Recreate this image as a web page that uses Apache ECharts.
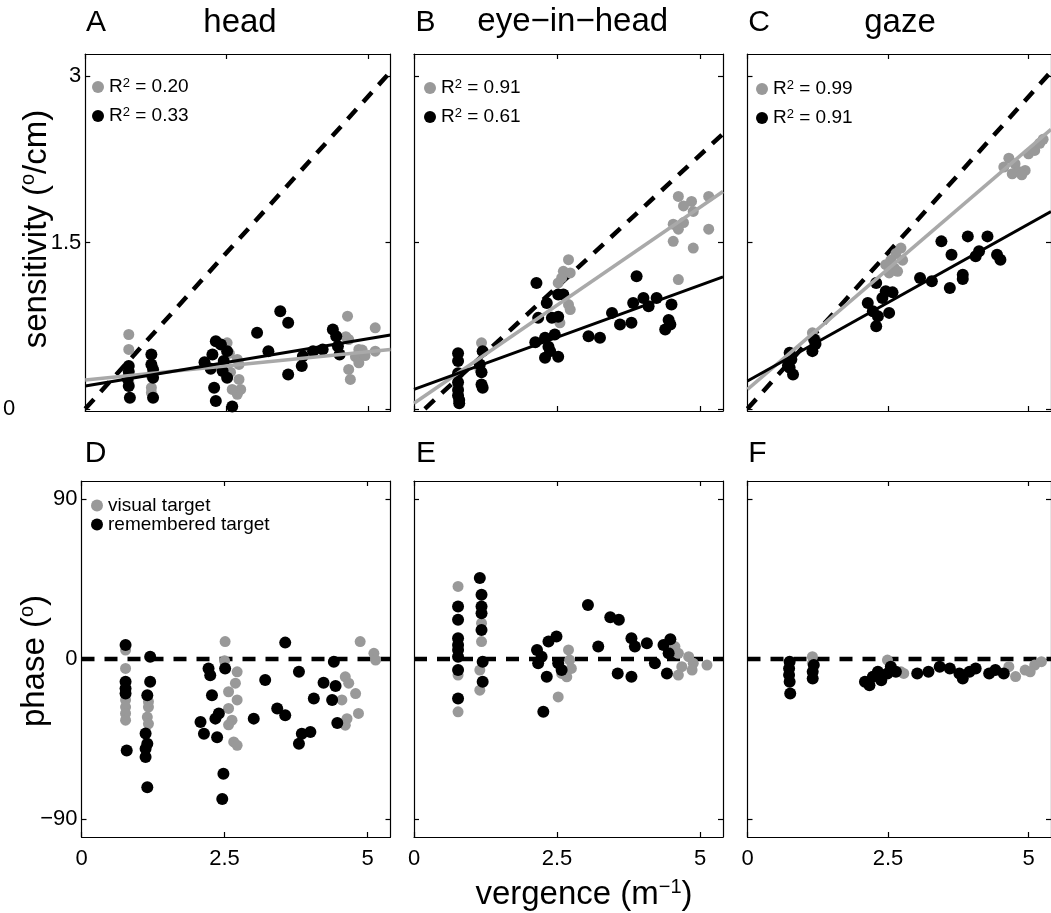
<!DOCTYPE html>
<html><head><meta charset="utf-8">
<script src="https://cdn.jsdelivr.net/npm/echarts@6/dist/echarts.min.js"></script>
<style>html,body{margin:0;padding:0;background:#fff}#c{width:1051px;height:913px}</style>
</head><body><div id="c"></div>
<script>
const FONT = "'Liberation Sans', Arial, Helvetica, sans-serif";

// ---- tick labels / text ----
const xTicks = [0, 2.5, 5];
const sensTicks = [0, 1.5, 3];
const phaseTicks = [-90, 0, 90];
const panelLetters = ['A', 'B', 'C', 'D', 'E', 'F'];
const panelTitles = ['head', 'eye\u2212in\u2212head', 'gaze'];
const r2Visual = ['0.20', '0.91', '0.99'];
const r2Remembered = ['0.33', '0.61', '0.91'];
const legendLabels = ['visual target', 'remembered target'];

// ---- sensitivity data [vergence m^-1, sensitivity deg/cm] ----
const headSensVisual = [[0.77,0.67],[0.77,0.535],[0.77,0.30],[0.77,0.24],[1.17,0.19],[1.17,0.145],[1.17,0.30],
  [2.51,0.595],[2.69,0.445],[2.72,0.40],[2.72,0.265],[2.75,0.175],[2.69,0.13],[2.60,0.175],[2.57,0.33],[2.55,0.5],
  [4.64,0.835],[4.61,0.65],[4.66,0.625],[4.84,0.535],[4.78,0.47],[4.84,0.415],[4.66,0.355],[4.69,0.265],
  [5.13,0.73],[5.13,0.52],[4.90,0.53],[4.95,0.48]];
const headSensRemembered = [[0.77,0.385],[0.77,0.335],[0.75,0.27],[0.77,0.205],[0.79,0.10],
  [1.17,0.49],[1.17,0.40],[1.20,0.355],[1.20,0.28],[1.20,0.10],
  [2.31,0.61],[2.40,0.58],[2.51,0.52],[2.25,0.49],[2.11,0.42],[2.22,0.36],[2.45,0.43],[2.43,0.34],[2.51,0.28],[2.28,0.19],[2.31,0.07],[2.60,0.02],
  [3.04,0.685],[3.45,0.88],[3.59,0.775],[3.24,0.52],[3.59,0.31],[3.83,0.385],[3.85,0.475],[4.03,0.52],[4.20,0.535],
  [4.38,0.715],[4.44,0.655],[4.47,0.565],[4.50,0.49]];
const eyeSensVisual = [[0.77,0.2],[0.77,0.115],[1.18,0.595],[1.15,0.36],
  [2.70,1.345],[2.61,1.24],[2.73,1.225],[2.52,1.135],[2.58,1.18],[2.70,0.94],[2.73,0.895],[2.55,0.775],
  [4.62,1.915],[4.85,1.87],[5.15,1.915],[4.71,1.83],[4.88,1.78],[4.53,1.665],[4.71,1.68],[4.62,1.62],[5.15,1.62],
  [4.53,1.51],[4.88,1.45],[4.62,1.165]];
const eyeSensRemembered = [[0.77,0.50],[0.77,0.43],[0.77,0.32],[0.77,0.24],[0.77,0.17],[0.77,0.12],[0.79,0.08],[0.79,0.05],
  [1.20,0.52],[1.15,0.40],[1.18,0.33],[1.18,0.22],[1.20,0.19],
  [2.14,1.135],[2.52,1.03],[2.61,1.03],[2.32,0.955],[2.17,0.82],[2.41,0.82],[2.52,0.83],[2.46,0.67],[2.29,0.64],
  [2.12,0.60],[2.35,0.56],[2.38,0.52],[2.29,0.46],[2.52,0.47],
  [3.05,0.655],[3.25,0.64],[3.46,0.865],[3.60,0.76],[3.80,0.775],[3.83,0.955],[3.89,1.195],[4.01,1.0],[4.10,0.925],
  [4.24,1.0],[4.50,0.94],[4.45,0.80],[4.48,0.76],[4.39,0.715]];
const gazeSensVisual = [[0.75,0.42],[1.155,0.685],[1.21,0.625],
  [2.73,1.45],[2.64,1.40],[2.76,1.34],[2.55,1.34],[2.46,1.30],[2.61,1.27],[2.52,1.225],[2.67,1.24],
  [4.65,2.26],[4.56,2.18],[4.76,2.21],[4.82,2.14],[4.94,2.15],[4.71,2.12],[4.88,2.11],[5.00,2.30],[5.11,2.33],[5.20,2.395],[5.26,2.43]];
const gazeSensRemembered = [[0.75,0.505],[0.78,0.445],[0.75,0.37],[0.81,0.31],[0.72,0.39],
  [1.185,0.625],[1.21,0.585],[1.155,0.52],
  [2.29,1.135],[2.46,1.06],[2.58,1.05],[2.14,0.955],[2.23,0.88],[2.32,0.835],[2.52,0.865],[2.29,0.745],[2.40,1.0],
  [3.07,1.18],[3.28,1.15],[3.45,1.51],[3.63,1.39],[3.60,1.09],[3.83,1.21],[3.83,1.17],[3.92,1.555],[4.06,1.375],
  [4.12,1.42],[4.27,1.555],[4.44,1.39],[4.50,1.345]];

// ---- phase data [vergence m^-1, phase deg] ----
const headPhaseVisual = [[0.77,5],[0.77,-5.3],[0.77,-23],[0.77,-27],[0.77,-30.6],[0.77,-34.4],
  [1.17,-27],[1.15,-32.6],[1.17,-36.4],[1.17,-24],
  [2.51,9.8],[2.72,-7.2],[2.69,-13.6],[2.57,-18.4],[2.72,-23],[2.57,-27.8],[2.63,-34.4],[2.57,-37],[2.66,-46.6],[2.72,-48.5],[2.50,-1],
  [4.87,9.8],[5.11,3.2],[5.14,-0.6],[4.61,-10],[4.67,-13.6],[4.79,-19.4],[4.55,-23],[4.84,-30.6],[4.64,-33.5],[4.61,-37.2]];
const headPhaseRemembered = [[0.77,7.9],[0.77,-12.8],[0.77,-16.6],[0.77,-19.4],[0.79,-51.4],
  [1.20,1.3],[1.20,-12.8],[1.15,-20.3],[1.12,-41.9],[1.15,-47.6],[1.12,-50.4],[1.12,-55.1],[1.15,-72],
  [2.22,-5.3],[2.25,-9.1],[2.51,-5.3],[2.28,-20.3],[2.08,-35.4],[2.14,-42],[2.34,-33.5],[2.40,-30.6],[2.37,-43.9],[2.48,-64.5],[2.46,-78.6],
  [3.01,-33.5],[3.21,-11.8],[3.42,-27.8],[3.56,-31.6],[3.56,9.2],[3.80,-7.2],[3.85,-42],[4.00,-41],[3.80,-47.6],
  [4.06,-22.2],[4.23,-13.4],[4.41,-1.5],[4.44,-15.2],[4.38,-23],[4.47,-36]];
const eyePhaseVisual = [[0.77,40.8],[0.77,-29.7],[0.77,-9],
  [1.18,20.1],[1.18,9.8],[1.15,-6.2],[1.15,-17.5],
  [2.70,5.1],[2.72,-0.6],[2.75,-5.3],[2.58,-8.1],[2.67,-10],[2.52,-21.3],
  [4.62,3.2],[4.80,1.3],[4.88,-2.4],[4.68,-4.3],[4.62,-9],[4.86,-6.2],[5.12,-3.4],[4.56,7]];
const eyePhaseRemembered = [[0.77,29.5],[0.77,22],[0.77,11.7],[0.77,7.9],[0.77,5.1],[0.77,1.3],[0.77,-6.2],[0.77,-22.2],
  [1.15,45.5],[1.18,36.1],[1.18,29.5],[1.18,25.7],[1.18,16.3],[1.20,-1.5],[1.20,-12.8],
  [2.15,5.1],[2.23,1.3],[2.35,9.8],[2.49,12.6],[2.17,-2.4],[2.52,-2.4],[2.58,-6.2],[2.32,-10],[2.26,-29.7],
  [3.04,30.4],[3.22,7],[3.43,23.5],[3.58,22],[3.80,11.7],[3.86,7],[4.07,8.9],[3.56,-8.1],[3.80,-10],[4.21,-2.4],
  [4.36,7.9],[4.48,11.1],[4.45,3.2],[4.42,-8.1]];
const gazePhaseVisual = [[1.155,1.3],[1.155,-2.4],[2.49,-0.6],[2.73,-7.2],[2.78,-8.1],[4.65,-4.3],[4.77,-9.9],
  [4.94,-6.2],[5.11,-3.4],[5.03,-7.2],[5.23,-1.5]];
const gazePhaseRemembered = [[0.75,-1.5],[0.74,-5.3],[0.74,-9],[0.75,-12.8],[0.76,-19.4],
  [1.18,-3.4],[1.16,-7.2],[1.16,-10.9],
  [2.09,-12.8],[2.17,-14.7],[2.23,-10],[2.32,-7.2],[2.38,-11.9],[2.49,-8.1],[2.55,-4.3],[2.64,-7.2],
  [3.02,-8.1],[3.22,-7.2],[3.42,-4.3],[3.60,-5.3],[3.77,-8.1],[3.95,-7.2],[4.06,-5.3],[4.30,-8.1],[4.41,-6.2],[4.56,-8.1],[3.83,-11]];

// ---- regression fits and reference lines (end points) ----
const fitHeadVisual = [[0,0.26],[5.4,0.535]];
const fitHeadRemembered = [[0,0.205],[5.4,0.665]];
const fitEyeVisual = [[0,0.05],[5.4,1.96]];
const fitEyeRemembered = [[0,0.175],[5.4,1.19]];
const fitGazeVisual = [[0,0.175],[5.4,2.52]];
const fitGazeRemembered = [[0,0.25],[5.4,1.78]];
const idealHead = [[0,0],[5.4,3.04]];
const idealEye = [[0.19,0],[5.4,2.48]];
const idealGaze = [[0,0],[5.4,3.04]];
const zeroPhase = [[0,0],[5.4,0]];

// ---- assemble ----
const GRAY = '#999999';
const panelLeft = [81.5, 414, 747.5];
const panelWidth = 309;
const rowTop = [54, 481];
const rowHeight = [357, 356];
const rowYMin = [-0.02, -100];
const rowYMax = [3.2, 100];

const panelData = [
  {vis: headSensVisual, mem: headSensRemembered, fv: fitHeadVisual, fm: fitHeadRemembered, ref: idealHead},
  {vis: eyeSensVisual, mem: eyeSensRemembered, fv: fitEyeVisual, fm: fitEyeRemembered, ref: idealEye},
  {vis: gazeSensVisual, mem: gazeSensRemembered, fv: fitGazeVisual, fm: fitGazeRemembered, ref: idealGaze},
  {vis: headPhaseVisual, mem: headPhaseRemembered, ref: zeroPhase},
  {vis: eyePhaseVisual, mem: eyePhaseRemembered, ref: zeroPhase},
  {vis: gazePhaseVisual, mem: gazePhaseRemembered, ref: zeroPhase}
];

const axisLineStyle = {color: '#000', width: 1.2};
const grids = [], xAxes = [], yAxes = [], series = [], legends = [], graphics = [];
const legendText = {};

for (let row = 0; row < 2; row++) {
  for (let col = 0; col < 3; col++) {
    const gi = row * 3 + col;
    grids.push({left: panelLeft[col], top: rowTop[row], width: panelWidth, height: rowHeight[row]});
    const yTicks = row === 0 ? sensTicks : phaseTicks;
    const showY = col === 0;
    const showX = row === 1;
    const tick = {show: true, inside: true, length: 5, lineStyle: axisLineStyle};
    xAxes.push({gridIndex: gi, type: 'value', min: 0, max: 5.4, position: 'bottom',
      axisLine: {show: true, onZero: false, lineStyle: axisLineStyle},
      axisTick: Object.assign({customValues: xTicks}, tick),
      axisLabel: {show: showX, customValues: xTicks, margin: 11, color: '#000', fontSize: 22, fontFamily: FONT,
        formatter: v => String(v)},
      splitLine: {show: false}});
    xAxes.push({gridIndex: gi, type: 'value', min: 0, max: 5.4, position: 'top',
      axisLine: {show: true, onZero: false, lineStyle: axisLineStyle},
      axisTick: Object.assign({customValues: xTicks}, tick),
      axisLabel: {show: false}, splitLine: {show: false}});
    yAxes.push({gridIndex: gi, type: 'value', min: rowYMin[row], max: rowYMax[row], position: 'left',
      axisLine: {show: true, onZero: false, lineStyle: axisLineStyle},
      axisTick: Object.assign({customValues: yTicks}, tick),
      axisLabel: {show: showY, customValues: yTicks, margin: 4, color: '#000', fontSize: 22, fontFamily: FONT,
        formatter: v => {
          if (row === 0 && v === 0) return '{far|0}';
          return v < 0 ? '\u2212' + Math.abs(v) : String(v);
        },
        rich: {far: {padding: [0, 66, 0, 0], fontSize: 22, fontFamily: FONT, color: '#000'}}},
      splitLine: {show: false}});
    yAxes.push({gridIndex: gi, type: 'value', min: rowYMin[row], max: rowYMax[row], position: 'right',
      axisLine: {show: true, onZero: false, lineStyle: axisLineStyle},
      axisTick: Object.assign({customValues: yTicks}, tick),
      axisLabel: {show: false}, splitLine: {show: false}});

    const pd = panelData[gi];
    const xi = gi * 2, yi = gi * 2;
    const L = panelLetters[gi];
    series.push({type: 'line', xAxisIndex: xi, yAxisIndex: yi, data: pd.ref, symbol: 'none', silent: true,
      lineStyle: {color: '#000', width: 4.5, type: [13, 10]}, z: 2});
    series.push({type: 'scatter', name: L + '_vis', xAxisIndex: xi, yAxisIndex: yi, data: pd.vis,
      symbol: 'circle', symbolSize: 11, itemStyle: {color: GRAY, opacity: 1}, z: 3});
    series.push({type: 'scatter', name: L + '_mem', xAxisIndex: xi, yAxisIndex: yi, data: pd.mem,
      symbol: 'circle', symbolSize: 12, itemStyle: {color: '#000', opacity: 1}, z: 3});
    if (pd.fv) {
      series.push({type: 'line', xAxisIndex: xi, yAxisIndex: yi, data: pd.fv, symbol: 'none', silent: true,
        lineStyle: {color: '#a9a9a9', width: 3.5}, z: 4});
      series.push({type: 'line', xAxisIndex: xi, yAxisIndex: yi, data: pd.fm, symbol: 'none', silent: true,
        lineStyle: {color: '#000', width: 3}, z: 4});
    }
  }
}

// legends
const legendRich = {
  n: {fontSize: 19, fontFamily: FONT, color: '#000'},
  sup: {fontSize: 13, fontFamily: FONT, color: '#000', verticalAlign: 'top'}
};
const legendPos = [[92, 77], [424, 78], [756, 79]];
for (let col = 0; col < 3; col++) {
  const L = panelLetters[col];
  legendText[L + '_vis'] = '{n|R}{sup|2}{n| = ' + r2Visual[col] + '}';
  legendText[L + '_mem'] = '{n|R}{sup|2}{n| = ' + r2Remembered[col] + '}';
  legends.push({left: legendPos[col][0], top: legendPos[col][1], orient: 'vertical', icon: 'circle',
    itemWidth: 12, itemHeight: 12, itemGap: 9, selectedMode: false, padding: 0,
    data: [L + '_vis', L + '_mem'], formatter: name => legendText[name],
    textStyle: {fontSize: 19, fontFamily: FONT, color: '#000', lineHeight: 20, rich: legendRich}});
}
legendText['D_vis'] = '{n|' + legendLabels[0] + '}';
legendText['D_mem'] = '{n|' + legendLabels[1] + '}';
legends.push({left: 91, top: 496, orient: 'vertical', icon: 'circle',
  itemWidth: 12, itemHeight: 12, itemGap: 0, selectedMode: false, padding: 0,
  data: ['D_vis', 'D_mem'], formatter: name => legendText[name],
  textStyle: {fontSize: 19, fontFamily: FONT, color: '#000', lineHeight: 19, rich: legendRich}});

// text: panel letters, titles, axis names
const letterPos = [[96, 23], [425.5, 23], [759, 23], [95.5, 454], [426, 454], [757.5, 454]];
letterPos.forEach((p, i) => graphics.push({type: 'text', x: p[0], y: p[1], silent: true,
  style: {text: panelLetters[i], fontSize: 30, fontFamily: FONT, fill: '#000', align: 'center', verticalAlign: 'middle'}}));
const titlePos = [[240, 23], [572.7, 22], [900, 23]];
titlePos.forEach((p, i) => graphics.push({type: 'text', x: p[0], y: p[1], silent: true,
  style: {text: panelTitles[i], fontSize: 33, fontFamily: FONT, fill: '#000', align: 'center', verticalAlign: 'middle'}}));
const nameRich = {
  m: {fontSize: 33, fontFamily: FONT, fill: '#000', color: '#000', lineHeight: 36},
  sup: {fontSize: 20, fontFamily: FONT, fill: '#000', color: '#000', verticalAlign: 'top', lineHeight: 36}
};
graphics.push({type: 'text', x: 36.5, y: 229, rotation: Math.PI / 2, silent: true,
  style: {text: '{m|sensitivity (}{sup|o}{m|/cm)}', rich: nameRich, align: 'center', verticalAlign: 'middle', fill: '#000'}});
graphics.push({type: 'text', x: 35, y: 661, rotation: Math.PI / 2, silent: true,
  style: {text: '{m|phase (}{sup|o}{m|)}', rich: nameRich, align: 'center', verticalAlign: 'middle', fill: '#000'}});
graphics.push({type: 'text', x: 584, y: 895, silent: true,
  style: {text: '{m|vergence (m}{sup|\u22121}{m|)}', rich: nameRich, align: 'center', verticalAlign: 'middle', fill: '#000'}});

const chart = echarts.init(document.getElementById('c'));
chart.setOption({
  backgroundColor: '#fff',
  animation: false,
  grid: grids, xAxis: xAxes, yAxis: yAxes, series: series, legend: legends, graphic: graphics
});
</script></body></html>
